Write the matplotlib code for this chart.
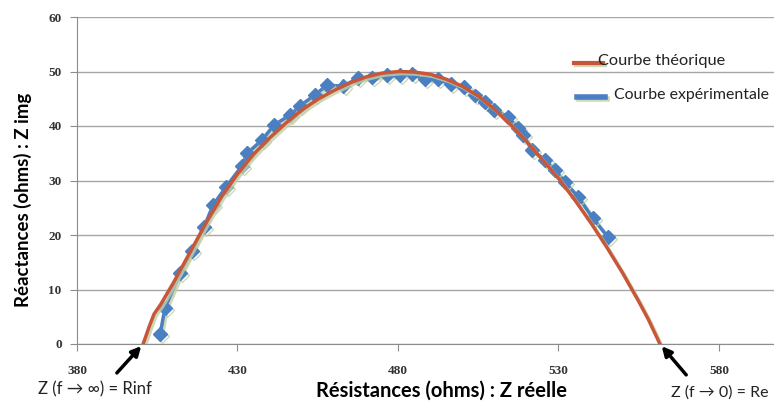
import matplotlib
matplotlib.use("Agg")
from matplotlib import pyplot as plt
import matplotlib.patheffects as pe

# experimental points (Z reelle, Z img)
exp_x = [405.9, 407.4, 412.1, 415.8, 419.6, 422.4, 426.4, 431.4, 433.0, 437.6,
         441.4, 446.4, 449.5, 454.1, 457.9, 463.0, 467.5, 472.0, 476.5, 480.5,
         484.5, 488.5, 492.5, 496.5, 500.5, 504.0, 507.0, 510.0, 514.3, 517.4,
         519.0, 521.7, 525.8, 528.9, 532.0, 536.1, 540.7, 545.4]
exp_y = [1.8, 6.6, 13.0, 17.1, 21.5, 25.5, 28.8, 32.7, 35.0, 37.4,
         40.2, 42.0, 43.7, 45.7, 47.5, 47.3, 48.8, 48.9, 49.4, 49.3,
         49.5, 48.6, 48.6, 47.7, 47.1, 45.6, 44.4, 43.0, 41.7, 39.6,
         38.3, 35.6, 33.8, 31.9, 29.7, 27.0, 23.1, 19.6]

# theoretical curve
th_x = [400.6, 402.5, 404.0, 406.0, 410.0, 415.0, 420.0, 425.0, 430.0, 435.0,
        440.0, 445.0, 450.0, 455.0, 460.0, 465.0, 470.0, 475.0, 480.5, 485.0,
        490.0, 495.0, 500.0, 505.0, 510.0, 515.0, 520.0, 525.0, 530.0, 535.0,
        540.0, 545.0, 550.0, 555.0, 558.0, 561.6]
th_y = [0.0, 3.2, 5.5, 7.2, 11.2, 16.6, 22.0, 27.0, 31.2, 34.8,
        37.8, 40.5, 42.9, 44.9, 46.5, 47.9, 49.0, 49.7, 50.0, 49.9,
        49.5, 48.6, 47.3, 45.5, 43.1, 40.3, 37.2, 33.8, 30.4, 26.5,
        22.3, 17.8, 13.0, 7.8, 4.5, 0.0]

x_ticks = [380, 430, 480, 530, 580]
y_ticks = [0, 10, 20, 30, 40, 50, 60]

red = "#c8573a"
blue = "#4a7fc1"
shadow = [pe.SimpleLineShadow(offset=(1.5, -1.5), shadow_color="#c2d0a8", alpha=0.8), pe.Normal()]

fig = plt.figure(figsize=(7.74, 4.05), dpi=100)
ax = fig.add_axes([77/774, 1-344/405, 1-77/774, (344-17)/405])

ax.plot(exp_x, exp_y, color=blue, lw=2.5, marker="D", ms=7, mec=blue, mfc=blue,
        path_effects=shadow, zorder=3)
ax.plot(th_x, th_y, color=red, lw=2.5, path_effects=shadow, zorder=4)

ax.set_xlim(380, 380 + (774-77)/3.21)
ax.set_ylim(0, 60)
ax.set_xticks(x_ticks)
ax.set_yticks(y_ticks)
ax.yaxis.grid(True, color="#a6a6a6", lw=1)
ax.set_axisbelow(True)
for s in ["top", "right"]:
    ax.spines[s].set_visible(False)
ax.spines["left"].set_color("#8c8c8c")
ax.spines["bottom"].set_color("#8c8c8c")
ax.tick_params(axis="y", length=5, color="#8c8c8c", pad=6)
ax.tick_params(axis="x", length=5, color="#8c8c8c", pad=10)
for lab in ax.get_xticklabels() + ax.get_yticklabels():
    lab.set_fontfamily("Liberation Serif")
    lab.set_fontweight("bold")
    lab.set_fontsize(9.5)
    lab.set_color("#333333")

fig.text(23/774, 1-200/405, "Réactances (ohms) : Z img", fontsize=13.4,
         fontweight="bold", family="Lato", rotation=90, ha="center", va="center")
fig.text(441/774, 1-391/405, "Résistances (ohms) : Z réelle", fontsize=14.5,
         fontweight="bold", family="Lato", ha="center", va="center")

# annotations with arrows
fig.text(38/774, 1-389/405, "Z (f \u2192 \u221e) = Rinf", fontsize=12, family="Lato",
         va="center", ha="left", color="#222222")
fig.text(671/774, 1-393/405, "Z (f \u2192 0) = Re", fontsize=11.5, family="Lato",
         va="center", ha="left", color="#222222")
ax.annotate("", xy=(400.6, 0), xytext=(115/774, 1-375/405), textcoords="figure fraction",
            arrowprops=dict(arrowstyle="-|>", color="black", lw=2.5, mutation_scale=14),
            annotation_clip=False)
ax.annotate("", xy=(561.6, 0), xytext=(688/774, 1-377/405), textcoords="figure fraction",
            arrowprops=dict(arrowstyle="-|>", color="black", lw=2.5, mutation_scale=14),
            annotation_clip=False)

# legend drawn by hand
fig.add_artist(plt.Line2D([574/774, 603/774], [1-63/405, 1-63/405], color=red, lw=3,
                          path_effects=shadow))
fig.text(598/774, 1-61/405, "Courbe théorique", fontsize=11.8, family="Lato",
         va="center", ha="left", color="#222222")
fig.add_artist(plt.Line2D([577/774, 605/774], [1-97/405, 1-97/405], color=blue, lw=4,
                          path_effects=shadow))
fig.text(614/774, 1-95/405, "Courbe expérimentale", fontsize=11.4, family="Lato",
         va="center", ha="left", color="#222222")

fig.savefig("out.png", dpi=100)
